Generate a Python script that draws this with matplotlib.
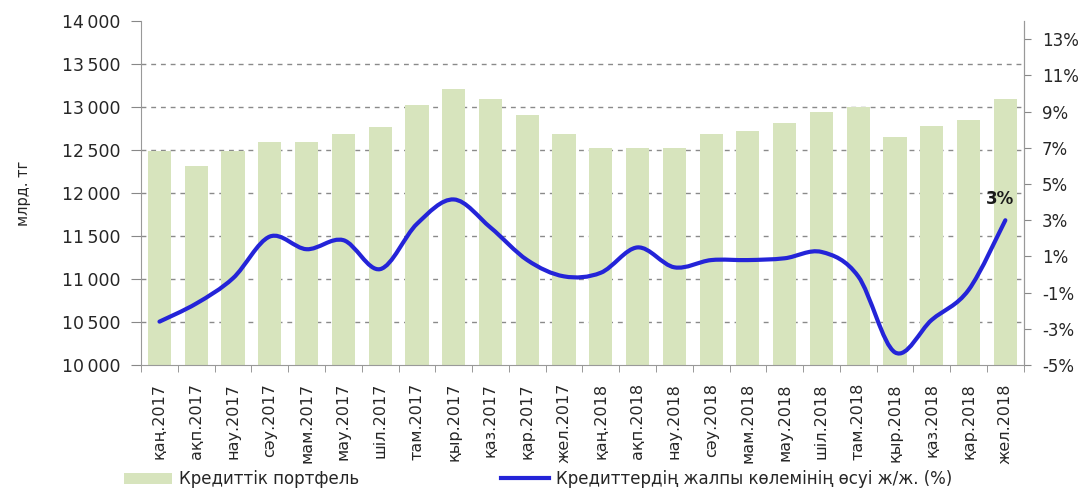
import matplotlib
matplotlib.use("Agg")
import matplotlib.pyplot as plt
import numpy as np
from matplotlib.path import Path
from matplotlib.patches import PathPatch
from matplotlib.lines import Line2D
from matplotlib.patches import Patch

plt.rcParams['font.family'] = ['DejaVu Sans']

months = ["қаң.2017", "ақп.2017", "нау.2017", "сәу.2017", "мам.2017", "мау.2017",
          "шіл.2017", "там.2017", "қыр.2017", "қаз.2017", "қар.2017", "жел.2017",
          "қаң.2018", "ақп.2018", "нау.2018", "сәу.2018", "мам.2018", "мау.2018",
          "шіл.2018", "там.2018", "қыр.2018", "қаз.2018", "қар.2018", "жел.2018"]
portfolio = [12490, 12315, 12490, 12590, 12590, 12685, 12770, 13020, 13210, 13095, 12905, 12685,
             12520, 12520, 12530, 12685, 12720, 12810, 12940, 13005, 12655, 12780, 12850, 13090]
growth = [-2.6, -1.6, -0.2, 2.1, 1.4, 1.9, 0.3, 2.8, 4.15, 2.6, 0.8, -0.1,
          0.1, 1.5, 0.4, 0.8, 0.8, 0.9, 1.25, -0.1, -4.3, -2.5, -0.85, 3.0]
left_ticks = [10000, 10500, 11000, 11500, 12000, 12500, 13000, 13500, 14000]
right_ticks = [-5, -3, -1, 1, 3, 5, 7, 9, 11, 13]

bar_color = "#d7e4bd"
line_color = "#2424d8"
text_color = "#262626"

fig = plt.figure(figsize=(10.87, 4.92), dpi=100)
ax = fig.add_axes([0.1298, 0.258, 0.812, 0.699])
x = np.arange(len(months))
ax.bar(x, portfolio, width=0.63, color=bar_color, zorder=2)
ax.set_ylim(10000, 14000)
ax.set_xlim(-0.5, len(months) - 0.5)
ax.set_yticks(left_ticks)
ax.set_yticklabels([f"{v:,}".replace(",", "\u2009") for v in left_ticks], fontsize=12.5, color=text_color)
for v in left_ticks[1:-1]:
    ax.axhline(v, color="#8a8a8a", linestyle=(0, (3.5, 3.5)), linewidth=1.0, zorder=1)
ax.set_xticks(x)
ax.set_xticklabels(months, rotation=90, fontsize=11.5, color=text_color)
ax.set_xticks(np.arange(-0.5, len(months) + 0.5, 1), minor=True)
ax.tick_params(axis='x', which='major', length=0, pad=13)
ax.tick_params(axis='x', which='minor', length=5, color="#888888")
ax.tick_params(axis='y', length=7, color="#888888", direction='out', pad=8)
ax.spines['top'].set_visible(False)
for s in ['left', 'right', 'bottom']:
    ax.spines[s].set_color("#999999")
ax.set_ylabel("млрд. тг", fontsize=10.5, labelpad=22, color=text_color)

ax2 = ax.twinx()
ax2.set_ylim(-5, 14)
ax2.set_yticks(right_ticks)
ax2.set_yticklabels([f"{v}%" for v in right_ticks], fontsize=12, color=text_color)
ax2.tick_params(axis='y', length=5, color="#888888", pad=8)
for s in ['top', 'left', 'bottom']:
    ax2.spines[s].set_visible(False)
ax2.spines['right'].set_color("#999999")

# smoothed line via cubic Bezier (Catmull-Rom style control points)
px = x.astype(float)
py = np.array(growth, dtype=float)
verts = [(px[0], py[0])]
codes = [Path.MOVETO]
t = 1 / 6
for i in range(len(px) - 1):
    p0 = (px[i - 1], py[i - 1]) if i > 0 else (px[i], py[i])
    p1 = (px[i], py[i])
    p2 = (px[i + 1], py[i + 1])
    p3 = (px[i + 2], py[i + 2]) if i + 2 < len(px) else p2
    c1 = (p1[0] + (p2[0] - p0[0]) * t, p1[1] + (p2[1] - p0[1]) * t)
    c2 = (p2[0] - (p3[0] - p1[0]) * t, p2[1] - (p3[1] - p1[1]) * t)
    verts += [c1, c2, p2]
    codes += [Path.CURVE4] * 3
ax2.add_patch(PathPatch(Path(verts, codes), facecolor='none', edgecolor=line_color,
                        linewidth=3, zorder=3, capstyle='round', joinstyle='round'))
ax2.annotate(f"{growth[-1]:.0f}%", (px[-1], py[-1]), xytext=(-4, 9), textcoords='offset points',
             ha='center', va='bottom', fontsize=12, fontweight='bold', color="#1a1a1a")

handles = [Patch(facecolor=bar_color, edgecolor='none'),
           Line2D([0], [0], color=line_color, linewidth=3)]
fig.legend(handles, ["Кредиттік портфель", "Кредиттердің жалпы көлемінің өсуі ж/ж. (%)"],
           loc='center left', bbox_to_anchor=(0.105, 0.026), ncol=2, frameon=False,
           fontsize=12, handlelength=2.9, columnspacing=8.5, handletextpad=0.4,
           labelcolor=text_color, borderpad=0.1)

fig.savefig("out.png", dpi=100)
